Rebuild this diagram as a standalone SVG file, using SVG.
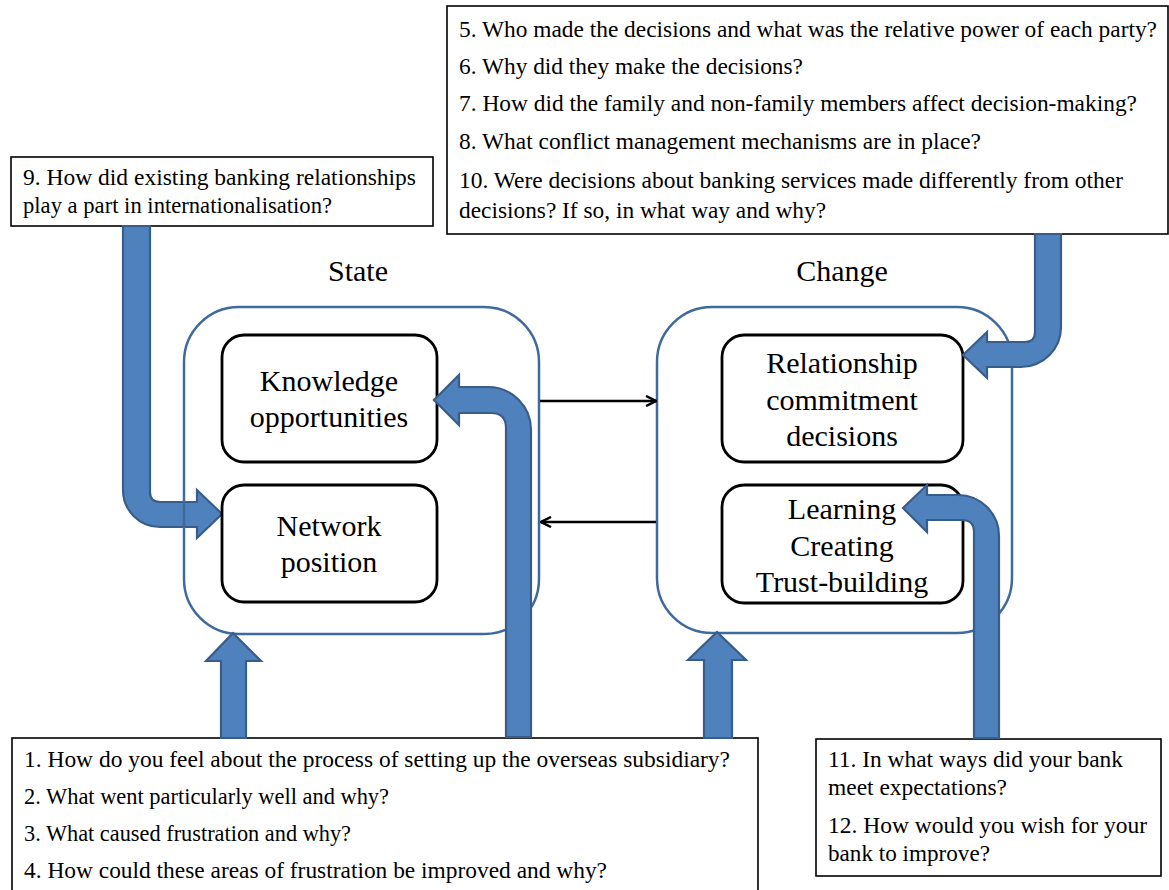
<svg xmlns="http://www.w3.org/2000/svg" width="1169" height="890" viewBox="0 0 1169 890">
<style>
  .q { font-size: 22.5px; fill: #000; }
  .lbl { font-size: 30px; fill: #000; text-anchor: middle; }
  .tbox { fill: #fff; stroke: #000; stroke-width: 1.6; }
  .outer { fill: none; stroke: #3F6A9E; stroke-width: 2.5; }
  .inner { fill: #fff; stroke: #000; stroke-width: 2.8; }
  .big { fill: #4F81BD; stroke: #385D8A; stroke-width: 2.2; stroke-linejoin: miter; }
  .thin { stroke: #000; stroke-width: 2.5; fill: none; }
</style>
<defs>
  <marker id="chev" viewBox="0 0 12 12" refX="11" refY="6" markerWidth="12" markerHeight="12" markerUnits="userSpaceOnUse" orient="auto">
    <path d="M1 1 L11 6 L1 11" fill="none" stroke="#000" stroke-width="2.5"/>
  </marker>
</defs>
<rect width="1169" height="890" fill="#fff"/>
<g font-family="Liberation Serif, DejaVu Serif, serif">
<!-- Question boxes -->
<g id="q9">
  <rect class="tbox" x="11" y="157" width="422" height="69"/>
  <text class="q" x="23" y="185" textLength="393" lengthAdjust="spacingAndGlyphs">9. How did existing banking relationships</text>
  <text class="q" x="23" y="213" textLength="309" lengthAdjust="spacingAndGlyphs">play a part in internationalisation?</text>
</g>
<g id="q5to10">
  <rect class="tbox" x="447" y="6" width="721" height="228"/>
  <text class="q" x="459" y="37" textLength="698" lengthAdjust="spacingAndGlyphs">5. Who made the decisions and what was the relative power of each party?</text>
  <text class="q" x="459" y="74" textLength="344" lengthAdjust="spacingAndGlyphs">6. Why did they make the decisions?</text>
  <text class="q" x="459" y="111" textLength="678" lengthAdjust="spacingAndGlyphs">7. How did the family and non-family members affect decision-making?</text>
  <text class="q" x="459" y="149" textLength="522" lengthAdjust="spacingAndGlyphs">8. What conflict management mechanisms are in place?</text>
  <text class="q" x="459" y="188" textLength="664" lengthAdjust="spacingAndGlyphs">10. Were decisions about banking services made differently from other</text>
  <text class="q" x="459" y="218" textLength="367" lengthAdjust="spacingAndGlyphs">decisions? If so, in what way and why?</text>
</g>
<g id="q1to4">
  <rect class="tbox" x="12" y="738" width="746" height="155"/>
  <text class="q" x="24" y="767" textLength="706" lengthAdjust="spacingAndGlyphs">1. How do you feel about the process of setting up the overseas subsidiary?</text>
  <text class="q" x="24" y="804" textLength="365" lengthAdjust="spacingAndGlyphs">2. What went particularly well and why?</text>
  <text class="q" x="24" y="841" textLength="327" lengthAdjust="spacingAndGlyphs">3. What caused frustration and why?</text>
  <text class="q" x="24" y="878" textLength="583" lengthAdjust="spacingAndGlyphs">4. How could these areas of frustration be improved and why?</text>
</g>
<g id="q11to12">
  <rect class="tbox" x="816" y="739" width="345" height="137"/>
  <text class="q" x="828" y="767" textLength="295" lengthAdjust="spacingAndGlyphs">11. In what ways did your bank</text>
  <text class="q" x="828" y="795" textLength="179" lengthAdjust="spacingAndGlyphs">meet expectations?</text>
  <text class="q" x="828" y="833" textLength="319" lengthAdjust="spacingAndGlyphs">12. How would you wish for your</text>
  <text class="q" x="828" y="861" textLength="162" lengthAdjust="spacingAndGlyphs">bank to improve?</text>
</g>

<!-- Arrow under the State outline -->
<g id="arrow-q9">
  <path class="big" d="M123 226 L150 226 L150 492 Q150 502 160 502 L197 502 L197 490 L222 514 L197 538 L197 527 L160 527 A37 37 0 0 1 123 490 Z"/>
</g>

<!-- State -->
<g id="state">
  <text class="lbl" x="358" y="281">State</text>
  <rect class="outer" x="184" y="307" width="355" height="327" rx="55" ry="55"/>
</g>
<g id="knowledge">
  <rect class="inner" x="222" y="335" width="215" height="127" rx="22" ry="22"/>
  <text class="lbl" x="329" y="391">Knowledge</text>
  <text class="lbl" x="329" y="427">opportunities</text>
</g>
<g id="network">
  <rect class="inner" x="222" y="485" width="215" height="117" rx="22" ry="22"/>
  <text class="lbl" x="329" y="536">Network</text>
  <text class="lbl" x="329" y="572">position</text>
</g>

<!-- Change -->
<g id="change">
  <text class="lbl" x="842" y="281">Change</text>
  <rect class="outer" x="657" y="307" width="355" height="326" rx="55" ry="55"/>
</g>
<g id="relationship">
  <rect class="inner" x="722" y="335" width="241" height="127" rx="22" ry="22"/>
  <text class="lbl" x="842" y="373">Relationship</text>
  <text class="lbl" x="842" y="410">commitment</text>
  <text class="lbl" x="842" y="446">decisions</text>
</g>
<g id="learning">
  <rect class="inner" x="722" y="485" width="241" height="118" rx="22" ry="22"/>
  <text class="lbl" x="842" y="519">Learning</text>
  <text class="lbl" x="842" y="556">Creating</text>
  <text class="lbl" x="842" y="592">Trust-building</text>
</g>

<!-- Connectors -->
<g id="connectors">
  <line class="thin" x1="540" y1="401" x2="656" y2="401" marker-end="url(#chev)"/>
  <line class="thin" x1="656" y1="522" x2="541" y2="522" marker-end="url(#chev)"/>
  <path class="big" d="M506 737 L506 428 Q506 413 491 413 L459 413 L459 425 L434 400 L459 375 L459 387 L488 387 A43 43 0 0 1 531 430 L531 737 Z"/>
  <path class="big" d="M1035 234 L1061 234 L1061 327 A40 40 0 0 1 1021 367 L987 367 L987 378 L963 355 L987 332 L987 342 L1025 342 Q1035 342 1035 332 Z"/>
  <path class="big" d="M974 738 L974 532 Q974 520 962 520 L927 520 L927 532 L903 508 L927 485 L927 495 L958 495 A41 41 0 0 1 999 536 L999 738 Z"/>
  <path class="big" d="M221 738 L221 661 L206 661 L233 633 L261 661 L246 661 L246 738 Z"/>
  <path class="big" d="M704 738 L704 660 L688 660 L717 632 L746 660 L732 660 L732 738 Z"/>
</g>
</g>
</svg>
